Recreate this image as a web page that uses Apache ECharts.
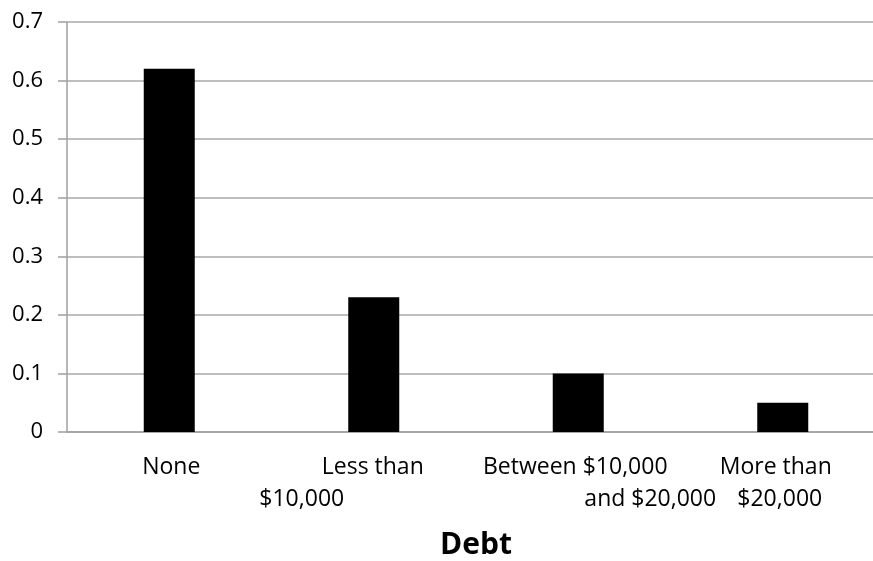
<!DOCTYPE html>
<html>
<head>
<meta charset="utf-8">
<script src="https://cdn.jsdelivr.net/npm/echarts@6/dist/echarts.min.js"></script>
<style>html,body{margin:0;padding:0;background:#fff}#c{width:873px;height:561px}</style>
</head>
<body>
<div id="c"></div>
<script>
// Data
var categoryLine1 = ['None', 'Less than', 'Between $10,000', 'More than'];
var categoryLine2 = ['', '$10,000', 'and $20,000', '$20,000'];
var values = [0.62, 0.23, 0.10, 0.05];
var axisTitle = 'Debt';

// Layout: horizontal shift of each label line (px), as seen in the reference
var shift1 = [2, -1, -3, -7];
var shift2 = [0, -72, 72, -3];

var FONT = '"Open Sans", "Noto Sans", sans-serif';
var rich = {};
function padFor(s) { return s >= 0 ? [0, 0, 0, 2 * s] : [0, -2 * s, 0, 0]; }
for (var i = 0; i < categoryLine1.length; i++) {
  rich['a' + i] = { fontFamily: FONT, fontSize: 23, color: '#000', lineHeight: 32, align: 'center', padding: padFor(shift1[i]) };
  rich['b' + i] = { fontFamily: FONT, fontSize: 23, color: '#000', lineHeight: 32, align: 'center', padding: padFor(shift2[i]) };
}
var cats = categoryLine1.map(function (c, i) { return c + '|' + categoryLine2[i]; });

var chart = echarts.init(document.getElementById('c'), null, { renderer: 'canvas' });
chart.setOption({
  animation: false,
  backgroundColor: '#fff',
  grid: { left: 67, right: -12, top: 22, bottom: 129, containLabel: false, outerBoundsMode: 'none' },
  xAxis: {
    type: 'category',
    data: cats,
    axisLine: { show: true, lineStyle: { color: '#a0a0a0', width: 1.5 } },
    axisTick: { show: false },
    axisLabel: {
      interval: 0,
      margin: 19,
      formatter: function (v, idx) {
        var p = v.split('|');
        return '{a' + idx + '|' + p[0] + '}\n{b' + idx + '|' + (p[1] || ' ') + '}';
      },
      rich: rich
    },
    name: axisTitle,
    nameLocation: 'middle',
    nameGap: 98,
    nameTextStyle: { fontFamily: FONT, fontSize: 30, fontWeight: 'bold', color: '#000' }
  },
  yAxis: {
    type: 'value',
    min: 0,
    max: 0.7,
    interval: 0.1,
    axisLine: { show: true, lineStyle: { color: '#a0a0a0', width: 1.5 } },
    axisTick: { show: true, length: 9, lineStyle: { color: '#a0a0a0', width: 1.5 } },
    splitLine: { show: true, lineStyle: { color: '#a8a8a8', width: 1.5 } },
    axisLabel: { margin: 24, fontFamily: FONT, fontSize: 22, color: '#000',
      formatter: function (v) { return String(Math.round(v * 10) / 10); } }
  },
  series: [{
    type: 'bar',
    data: values,
    barWidth: 51,
    itemStyle: { color: '#000' }
  }]
});
</script>
</body>
</html>
